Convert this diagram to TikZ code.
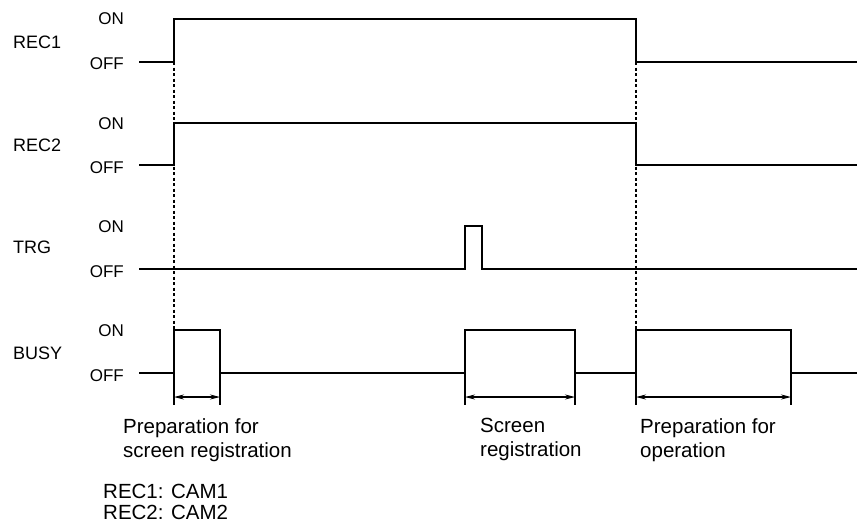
\documentclass[tikz,border=0pt]{standalone}
\usepackage{fontspec}
\setmainfont{Liberation Sans}
\usepackage{tikz}
\usetikzlibrary{arrows.meta}

\begin{document}
\begin{tikzpicture}[x=1pt, y=-1pt,
    signame/.style={anchor=west, inner sep=0pt, font=\fontsize{18}{18}\selectfont},
    lvl/.style={anchor=east, inner sep=0pt, font=\fontsize{17}{17}\selectfont},
    note/.style={anchor=north west, inner sep=0pt, align=left, font=\fontsize{20.5}{24}\selectfont},
    wave/.style={line width=2.9pt, line join=miter},
    guide/.style={line width=1.1pt, dash pattern=on 3pt off 2.5pt},
    edgetick/.style={line width=1.1pt},
    dimarrow/.style={{Stealth[length=10pt,width=5pt]}-{Stealth[length=10pt,width=5pt]}, line width=1.1pt}
]
\useasboundingbox (0,0) rectangle (861,525);

% signal names and levels
\node (REC1) [signame] at (13,42)  {REC1};
\node (REC2) [signame] at (13,145) {REC2};
\node (TRG)  [signame] at (13,247) {TRG};
\node (BUSY) [signame] at (13,353) {BUSY};

\node (ON1)  [lvl] at (124,19)  {ON};
\node (OFF1) [lvl] at (124,64)  {OFF};
\node (ON2)  [lvl] at (124,124) {ON};
\node (OFF2) [lvl] at (124,168) {OFF};
\node (ON3)  [lvl] at (124,227) {ON};
\node (OFF3) [lvl] at (124,272) {OFF};
\node (ON4)  [lvl] at (124,331) {ON};
\node (OFF4) [lvl] at (124,376) {OFF};

% guide lines
\draw [guide] (174,62) -- (174,330);
\draw [guide] (636,62) -- (636,330);

% waveforms
\draw [wave] (139,62) -- (174,62) -- (174,19) -- (636,19) -- (636,62) -- (857,62);
\draw [wave] (139,165) -- (174,165) -- (174,123) -- (636,123) -- (636,165) -- (857,165);
\draw [wave] (139,269) -- (465,269) -- (465,226) -- (482,226) -- (482,269) -- (857,269);
\draw [wave] (139,373) -- (174,373) -- (174,330) -- (220,330) -- (220,373)
    -- (465,373) -- (465,330) -- (575,330) -- (575,373)
    -- (636,373) -- (636,330) -- (791,330) -- (791,373) -- (857,373);

% durations
\draw [edgetick] (174,373) -- (174,405);
\draw [edgetick] (220,373) -- (220,405);
\draw [edgetick] (465,373) -- (465,405);
\draw [edgetick] (575,373) -- (575,405);
\draw [edgetick] (636,373) -- (636,405);
\draw [edgetick] (791,373) -- (791,405);
\draw [dimarrow] (174,397) -- (220,397);
\draw [dimarrow] (465,397) -- (575,397);
\draw [dimarrow] (636,397) -- (791,397);

\node (PREPSCR) [note] at (123,418) {Preparation for\\screen registration};
\node (SCRREG)  [note] at (480,418) {Screen\\registration};
\node (PREPOP)  [note] at (640,418) {Preparation for\\operation};

\node (CAMS) [note, font=\fontsize{20.5}{21}\selectfont] at (103,484) {REC1: CAM1\\REC2: CAM2};

\end{tikzpicture}
\end{document}
